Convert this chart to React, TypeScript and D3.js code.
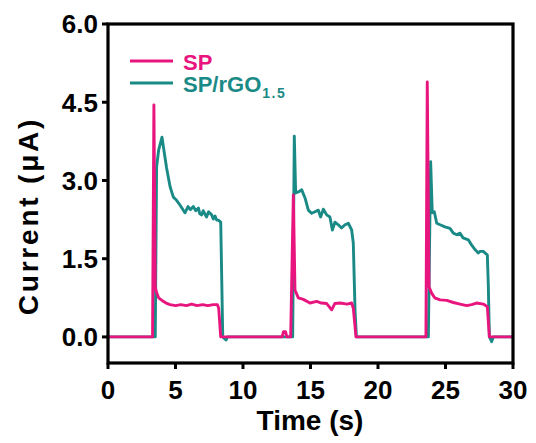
import React from "react";
import * as d3 from "d3";

const spTime = [0, 3.3, 3.4, 3.5, 3.6, 3.75, 4.0, 4.3, 4.6, 5.0, 5.4, 5.8, 6.2, 6.6, 7.0, 7.4, 7.8, 8.1, 8.2, 8.35,
  12.9, 13.0, 13.15, 13.25, 13.53, 13.73, 13.85, 14.1, 14.47, 14.96, 15.46, 15.8, 16.2, 16.57, 16.8, 17.2, 17.7, 18.05, 18.17, 18.37,
  23.55, 23.65, 23.78, 23.97, 24.2, 24.6, 25.1, 25.58, 26.07, 26.57, 26.94, 27.3, 27.8, 28.1, 28.25, 30];
const spValue = [0, 0, 4.45, 0.96, 0.85, 0.75, 0.7, 0.65, 0.62, 0.6, 0.62, 0.6, 0.63, 0.6, 0.62, 0.6, 0.62, 0.62, 0.55, 0,
  0, 0.1, 0.1, 0, 0, 2.72, 0.9, 0.75, 0.72, 0.65, 0.68, 0.65, 0.64, 0.52, 0.64, 0.65, 0.63, 0.65, 0.55, 0,
  0, 4.89, 0.96, 0.84, 0.75, 0.71, 0.7, 0.66, 0.63, 0.6, 0.62, 0.65, 0.63, 0.58, 0, 0];

const rgoTime = [0, 3.5, 3.6, 3.75, 4.0, 4.17, 4.34, 4.6, 4.84, 5.08, 5.33, 5.7, 5.93, 6.1, 6.32, 6.5, 6.7, 6.8, 6.94, 7.05, 7.3, 7.45, 7.68, 7.8, 7.93, 8.05, 8.17, 8.35, 8.5, 8.74, 8.85,
  13.68, 13.8, 13.9, 14.1, 14.35, 14.6, 14.84, 15.09, 15.33, 15.58, 15.75, 15.95, 16.2, 16.44, 16.62, 16.81, 17.06, 17.3, 17.56, 17.8, 18.05, 18.17, 18.3, 18.4,
  23.73, 23.9, 24.02, 24.17, 24.35, 24.6, 24.96, 25.33, 25.58, 25.83, 26.07, 26.3, 26.7, 26.94, 27.2, 27.43, 27.56, 27.8, 28.1, 28.17, 28.25, 28.42, 28.54, 30];
const rgoValue = [0, 0, 3.26, 3.58, 3.83, 3.53, 3.24, 2.88, 2.68, 2.62, 2.53, 2.38, 2.5, 2.44, 2.5, 2.42, 2.47, 2.36, 2.34, 2.42, 2.3, 2.4, 2.34, 2.26, 2.32, 2.24, 2.24, 2.2, 0, -0.06, 0,
  0, 3.85, 2.76, 2.78, 2.82, 2.66, 2.43, 2.37, 2.4, 2.43, 2.3, 2.45, 2.34, 2.3, 2.05, 2.2, 2.15, 2.09, 2.15, 2.18, 2.05, 1.8, 0.5, 0,
  0, 3.36, 2.38, 2.4, 2.18, 2.15, 2.11, 2.08, 1.99, 1.96, 1.99, 1.9, 1.86, 1.76, 1.67, 1.61, 1.64, 1.64, 1.57, 1.0, 0, -0.09, 0, 0];

const xTicks = [0, 5, 10, 15, 20, 25, 30];
const yTicks = [0, 1.5, 3.0, 4.5, 6.0];

const PINK = "#e8157f";
const TEAL = "#1a8a86";
const FONT = "'Liberation Sans', Arial, sans-serif";

export default function App() {
  const x = d3.scaleLinear().domain([0, 30]).range([108, 513]);
  const y = d3.scaleLinear().domain([-0.5, 6.0]).range([363, 24]);
  const line = d3.line<[number, number]>().x(d => x(d[0])).y(d => y(d[1]));
  const spData = spTime.map((t, i) => [t, spValue[i]] as [number, number]);
  const rgoData = rgoTime.map((t, i) => [t, rgoValue[i]] as [number, number]);
  return (
    <svg width={536} height={443} style={{ position: "absolute", left: 0, top: 0, background: "#fff" }} fontFamily={FONT}>
      <path d={line(rgoData) || ""} fill="none" stroke={TEAL} strokeWidth={2.9} strokeLinejoin="round" />
      <path d={line(spData) || ""} fill="none" stroke={PINK} strokeWidth={2.9} strokeLinejoin="round" />
      <rect x={108} y={24} width={405} height={339} fill="none" stroke="#000" strokeWidth={3.2} />
      {yTicks.map(v => (
        <g key={"y" + v}>
          <line x1={102} x2={108} y1={y(v)} y2={y(v)} stroke="#000" strokeWidth={3} />
          <text x={98} y={y(v)} dy="0.36em" textAnchor="end" fontSize={26} fontWeight="bold">{v.toFixed(1)}</text>
        </g>
      ))}
      {xTicks.map(v => (
        <g key={"x" + v}>
          <line x1={x(v)} x2={x(v)} y1={363} y2={369} stroke="#000" strokeWidth={3} />
          <text x={x(v)} y={399} textAnchor="middle" fontSize={26} fontWeight="bold">{v}</text>
        </g>
      ))}
      <text x={310} y={430} textAnchor="middle" fontSize={28} fontWeight="bold">Time (s)</text>
      <text transform="translate(38,216) rotate(-90)" textAnchor="middle" fontSize={28} fontWeight="bold" letterSpacing={2.8}>Current (μA)</text>
      <line x1={130} x2={173} y1={61} y2={61} stroke={PINK} strokeWidth={3} />
      <line x1={130} x2={173} y1={83} y2={83} stroke={TEAL} strokeWidth={3} />
      <text x={183} y={70} fontSize={22} fontWeight="bold" fill={PINK}>SP</text>
      <text x={183} y={92} fontSize={22} fontWeight="bold" fill={TEAL}>SP/rGO<tspan fontSize={14} dx={1} dy={6} letterSpacing={1.5}>1.5</tspan></text>
    </svg>
  );
}
